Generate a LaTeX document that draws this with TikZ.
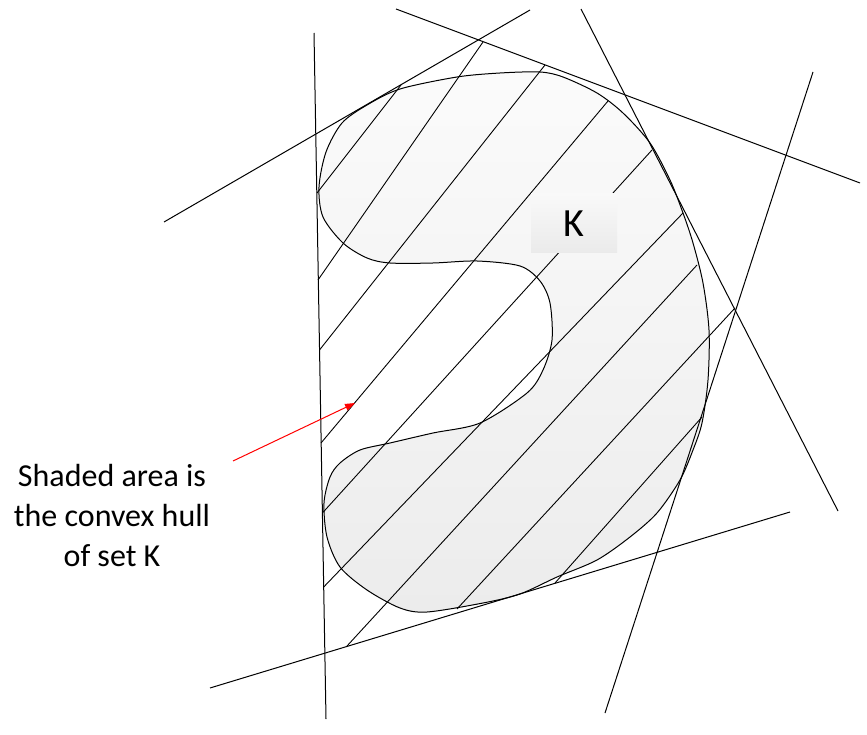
\documentclass[tikz,border=0pt]{standalone}
\usepackage{fontspec}
\setmainfont{Carlito}
\usetikzlibrary{arrows.meta}
\definecolor{setTop}{RGB}{251,251,251}
\definecolor{setBottom}{RGB}{236,236,236}
\definecolor{labelTop}{RGB}{249,249,249}
\definecolor{labelBottom}{RGB}{234,234,234}
\definecolor{pointer}{RGB}{255,0,0}

\begin{document}
\begin{tikzpicture}[x=1pt, y=-1pt,
  hatch/.style={black, line width=0.9pt},
  support/.style={black, line width=1pt}]
  \useasboundingbox (0,0) rectangle (867,735);
  % the set K
  \draw[line width=1pt, top color=setTop, bottom color=setBottom]
    plot[smooth cycle, tension=0.5] coordinates {
      (319,187) (326,152) (342,123) (367,105) (400,89) (457,77) (500,73)
      (540,72) (563,77) (597,93) (623,113) (650,143) (670,180) (683,213)
      (693,243) (703,283) (709,330) (708,380) (702,423) (693,450) (680,480)
      (657,513) (630,537) (597,560) (557,577) (520,594) (483,603) (427,612)
      (400,608) (367,590) (340,567) (327,537) (324,503) (330,477) (340,463)
      (360,450) (390,443) (433,433) (480,423) (527,393) (543,370) (552,340)
      (550,303) (540,281) (520,266) (477,261) (433,263) (390,263) (367,258)
      (343,243) (323,217)};
  % hatching of the hull
  \draw[hatch] (317,193) -- (401,85);
  \draw[hatch] (318,280) -- (483,42);
  \draw[hatch] (319.5,350) -- (545,65);
  \draw[hatch] (321,443) -- (608,101);
  \draw[hatch] (322.4,513) -- (652,150);
  \draw[hatch] (323.7,587) -- (683,213);
  \draw[hatch] (347,646) -- (697,265);
  \draw[hatch] (457,609) -- (735,308);
  \draw[hatch] (555,583) -- (702,417);
  % supporting lines
  \draw[support] (314,33) -- (326,719);
  \draw[support] (164,222) -- (530,10);
  \draw[support] (396,9) -- (860,183);
  \draw[support] (581,9) -- (838,511);
  \draw[support] (813,72) -- (605,713);
  \draw[support] (210,688) -- (790,512);
  \node[inner sep=0pt, minimum width=86pt, minimum height=59pt,
        top color=labelTop, bottom color=labelBottom,
        font=\fontsize{40}{48}\selectfont] (klabel) at (574,223.5) {K};
  \node[align=center, inner sep=0pt, font=\fontsize{32}{40}\selectfont]
    (note) at (112,516) {Shaded area is\\the convex hull\\of set K};
  \coordinate (tail) at (233,461);
  \coordinate (tip) at (355,403);
  \draw[pointer, line width=1pt, -{Triangle[length=10pt, width=7pt]}] (tail) -- (tip);
\end{tikzpicture}
\end{document}
